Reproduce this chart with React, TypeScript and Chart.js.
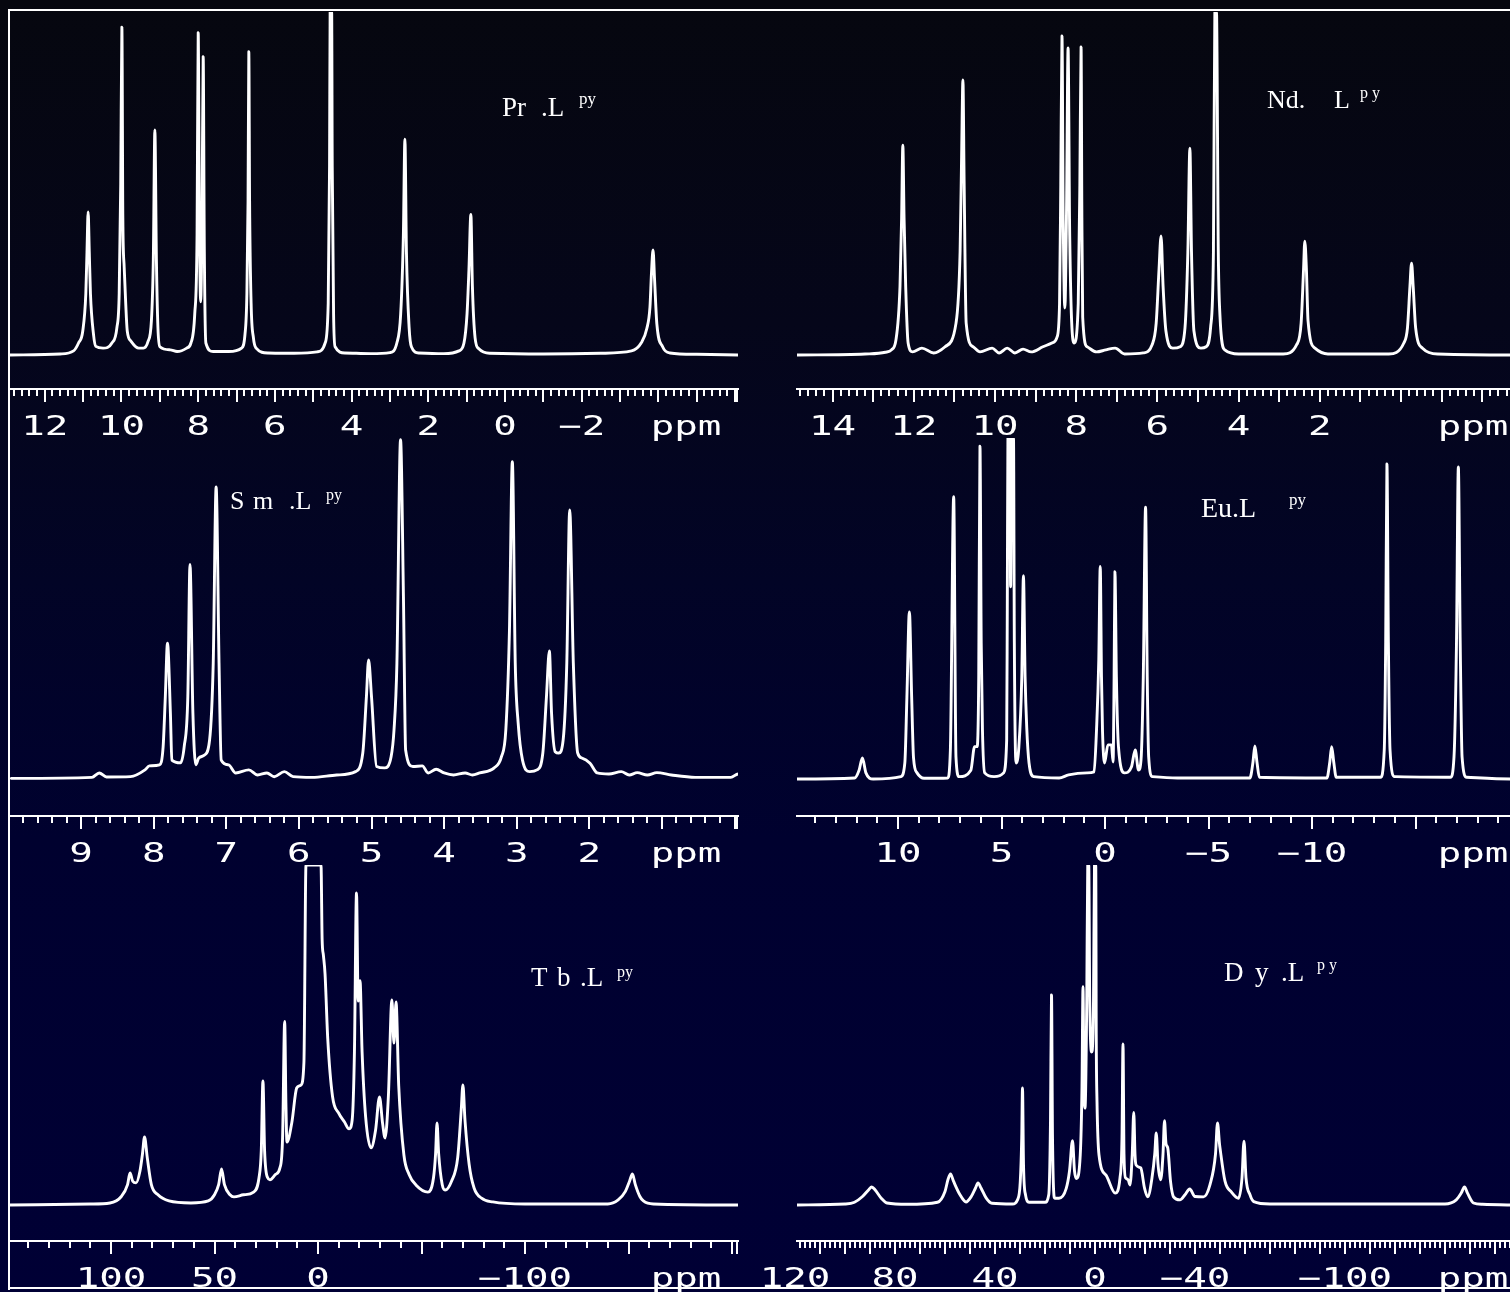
import React, { useEffect, useRef } from "react";
import { Chart, registerables } from "chart.js";

Chart.register(...registerables);

type Pt = [number, number]; // [chemical shift (ppm), intensity (% of panel height)]

// ---------------- Pr.L(py) ----------------
const PR_SPECTRUM: Pt[] = [
  [12.9, 0], [11.6, 0.3], [11.25, 1.2], [11.12, 3.5], [11.01, 7], [10.93, 18], [10.9, 30], [10.87, 41.7],
  [10.84, 30], [10.81, 18], [10.73, 6], [10.67, 2.5], [10.48, 2], [10.25, 3.5], [10.12, 8], [10.06, 18],
  [10.02, 50], [9.99, 95.6], [9.965, 40], [9.93, 25.6], [9.89, 15], [9.85, 7], [9.75, 4], [9.55, 2],
  [9.43, 2], [9.31, 3.9], [9.22, 10], [9.17, 28], [9.13, 65.6], [9.09, 28], [9.05, 8], [9.0, 2.4],
  [8.73, 1.5], [8.55, 1], [8.3, 2], [8.19, 3.5], [8.09, 12], [8.03, 35], [8.0, 94], [7.97, 40],
  [7.935, 15.5], [7.9, 40], [7.87, 87], [7.84, 30], [7.8, 3.5], [7.61, 1], [7.2, 1], [6.87, 2],
  [6.78, 6], [6.73, 18], [6.7, 45], [6.68, 88.4], [6.66, 45], [6.62, 15], [6.56, 5], [6.49, 2],
  [6.18, 0.6], [5.5, 0.5], [4.9, 0.9], [4.69, 3.5], [4.61, 15], [4.575, 55], [4.56, 100], [4.52, 100],
  [4.505, 55], [4.47, 12], [4.43, 2.4], [4.18, 0.6], [3.5, 0.4], [3.0, 0.7], [2.82, 3.5], [2.72, 12],
  [2.65, 35], [2.61, 62.9], [2.57, 30], [2.5, 8], [2.44, 2.4], [2.25, 0.6], [1.6, 0.4], [1.2, 1.2],
  [1.07, 3.5], [0.99, 12], [0.94, 25], [0.89, 41], [0.85, 20], [0.78, 5], [0.69, 1.9], [0.4, 0.5],
  [-1.0, 0.3], [-2.5, 0.5], [-3.3, 1.2], [-3.55, 3.5], [-3.7, 7.8], [-3.78, 14], [-3.82, 24], [-3.86, 30.6],
  [-3.9, 22], [-3.96, 9], [-4.11, 2.4], [-4.3, 0.6], [-5.0, 0.2], [-6.1, 0],
];
const PR_TICK_LABELS: number[] = [12, 10, 8, 6, 4, 2, 0, -2];

// ---------------- Nd.L(py) ----------------
const ND_SPECTRUM: Pt[] = [
  [14.9, 0], [13.2, 0.3], [12.7, 0.8], [12.55, 1.5], [12.44, 4.4], [12.34, 20], [12.3, 40], [12.27, 61.2],
  [12.24, 40], [12.2, 20], [12.14, 3.5], [12.03, 0.9], [11.8, 2], [11.51, 0.6], [11.23, 2.4], [10.96, 9.3],
  [10.86, 30], [10.82, 60], [10.79, 80.2], [10.76, 50], [10.71, 9.3], [10.54, 2.4], [10.37, 0.9], [10.07, 2],
  [9.9, 0.6], [9.7, 2], [9.51, 0.6], [9.31, 1.7], [9.11, 0.9], [8.82, 2.4], [8.6, 3.5], [8.47, 5.3],
  [8.41, 15], [8.38, 50], [8.35, 93], [8.32, 40], [8.28, 13.7], [8.24, 40], [8.2, 89.5], [8.16, 35],
  [8.05, 3.5], [7.95, 15], [7.91, 50], [7.88, 89.8], [7.86, 40], [7.84, 11], [7.73, 2.4], [7.5, 0.9],
  [7.27, 1.5], [7.04, 2], [6.81, 0.3], [6.35, 0.6], [6.13, 3], [6.03, 9.3], [5.96, 25], [5.91, 34.7],
  [5.86, 20], [5.79, 7], [5.62, 2], [5.44, 2.4], [5.32, 8], [5.25, 30], [5.2, 60.3], [5.16, 30],
  [5.1, 7], [4.93, 2], [4.8, 2.4], [4.69, 8], [4.62, 30], [4.585, 100], [4.545, 100], [4.5, 30],
  [4.46, 11.7], [4.34, 1.5], [4.0, 0.3], [2.9, 0.3], [2.57, 3], [2.46, 9.3], [2.4, 25], [2.37, 33.2],
  [2.33, 25], [2.29, 10], [2.12, 2], [1.8, 0.3], [0.3, 0.3], [-0.07, 3.5], [-0.16, 8], [-0.22, 20],
  [-0.26, 26.8], [-0.3, 20], [-0.36, 8], [-0.53, 2], [-0.9, 0.3], [-2.7, 0],
];
const ND_TICK_LABELS: number[] = [14, 12, 10, 8, 6, 4, 2];

// ---------------- Sm.L(py) ----------------
const SM_SPECTRUM: Pt[] = [
  [9.96, -0.7], [8.85, -0.4], [8.75, 0.9], [8.65, -0.3], [8.32, -0.2], [8.12, 1.8], [8.06, 3], [7.92, 3.3],
  [7.87, 8.7], [7.84, 23.5], [7.81, 39.3], [7.77, 18.6], [7.75, 4.7], [7.63, 3.9], [7.58, 8.7], [7.53, 23.5],
  [7.5, 62.6], [7.46, 18.6], [7.42, 3.3], [7.38, 5.3], [7.3, 6.2], [7.23, 10.7], [7.18, 33.4], [7.14, 85.5],
  [7.1, 33.4], [7.07, 4.7], [6.97, 3.3], [6.87, 0.9], [6.69, 1.8], [6.57, 0.3], [6.44, 0.9], [6.34, -0.2],
  [6.2, 1.3], [6.08, -0.2], [5.82, -0.4], [5.48, 0.3], [5.22, 1.3], [5.12, 6.8], [5.07, 23.5], [5.04, 34.3],
  [5.0, 23.5], [4.93, 2.8], [4.82, 2.4], [4.73, 5.7], [4.69, 13.6], [4.65, 33.4], [4.6, 99.5], [4.56, 53],
  [4.53, 7.7], [4.43, 2.8], [4.3, 3], [4.22, 0.9], [4.11, 2], [4.0, 0.9], [3.87, 0.3], [3.71, 0.9],
  [3.61, 0.3], [3.51, 0.9], [3.31, 2.4], [3.21, 5.7], [3.15, 13.6], [3.1, 43], [3.06, 93], [3.02, 33.4],
  [2.98, 15.7], [2.92, 4.7], [2.82, 1.3], [2.72, 1.8], [2.64, 6.8], [2.59, 23.5], [2.55, 37], [2.52, 18.6],
  [2.47, 7.2], [2.42, 6.8], [2.36, 10.7], [2.31, 33.4], [2.27, 78.7], [2.22, 33.4], [2.16, 6.8], [2.1, 5.3],
  [1.99, 3.8], [1.89, 0.9], [1.73, 0.6], [1.56, 1.3], [1.45, 0.3], [1.34, 1.0], [1.2, 0.3], [1.07, 1.0],
  [0.87, 0.3], [0.54, -0.4], [0.05, -0.4], [-0.05, 0.6], [-0.1, 0.6],
];
const SM_TICK_LABELS: number[] = [9, 8, 7, 6, 5, 4, 3, 2];

// ---------------- Eu.L(py) ----------------
const EU_SPECTRUM: Pt[] = [
  [14.93, 0], [12.1, 0.3], [11.88, 2.6], [11.72, 6.2], [11.55, 1.8], [11.2, 0], [9.86, 0.7], [9.67, 4.7],
  [9.57, 24], [9.45, 49], [9.34, 24], [9.25, 6.2], [9.08, 1.8], [8.74, 0.2], [7.6, 0.3], [7.47, 8.5],
  [7.31, 82.8], [7.2, 6.5], [7.05, 0.7], [6.48, 2.6], [6.3, 9.5], [6.18, 9.5], [6.1, 30], [6.04, 97.6],
  [5.98, 40], [5.92, 14.4], [5.81, 1.8], [5.36, 0.7], [4.9, 1.8], [4.75, 11.4], [4.72, 50], [4.69, 100],
  [4.6, 100], [4.56, 56.4], [4.5, 100], [4.42, 100], [4.38, 40], [4.3, 4.7], [4.16, 9.5], [4.02, 30],
  [3.94, 59.6], [3.86, 30], [3.78, 15], [3.67, 4.7], [3.44, 0.7], [2.22, 0.3], [1.76, 1.2], [0.87, 1.8],
  [0.53, 2.1], [0.41, 14.4], [0.3, 35], [0.23, 62.3], [0.17, 30], [0.12, 14], [0.02, 4.7], [-0.14, 10],
  [-0.31, 10], [-0.39, 5], [-0.44, 30], [-0.48, 60.8], [-0.55, 30], [-0.65, 9.5], [-0.94, 1.8], [-1.28, 3.6],
  [-1.46, 8.5], [-1.62, 2.6], [-1.74, 5.6], [-1.85, 30], [-1.96, 79.7], [-2.04, 30], [-2.11, 6.5], [-2.29, 0.7],
  [-3.5, 0.3], [-7.0, 0.3], [-7.15, 5], [-7.24, 9.7], [-7.34, 5], [-7.46, 0.5], [-10.72, 0.3], [-10.86, 5],
  [-10.95, 9.5], [-11.05, 5], [-11.17, 0.5], [-13.31, 0.5], [-13.49, 8.5], [-13.56, 40], [-13.62, 92.4], [-13.69, 40],
  [-13.77, 8.5], [-13.99, 0.7], [-16.69, 0.5], [-16.86, 6.5], [-16.98, 40], [-17.07, 91.5], [-17.16, 40], [-17.25, 6.5],
  [-17.47, 0.5], [-19.6, 0],
];
const EU_TICK_LABELS: number[] = [10, 5, 0, -5, -10];

// ---------------- Tb.L(py) ----------------
const TB_SPECTRUM: Pt[] = [
  [148.8, 0], [110, 0.3], [100.5, 0.6], [95, 2.5], [92, 6], [90.8, 9.4], [89.5, 7], [87.9, 6.5],
  [86, 10], [84.8, 15], [83.8, 20], [82.5, 14], [80.5, 6], [77.3, 3], [72, 1.2], [61.4, 0.6],
  [53, 1.2], [50, 3], [48, 6], [46.6, 10.6], [45.2, 6], [42.5, 3], [40.6, 2.4], [36, 3],
  [31.1, 3.8], [28.5, 8], [27.4, 16], [26.6, 36.5], [25.8, 16], [24.3, 8], [23.2, 7.4], [20.5, 9],
  [18.4, 10.9], [17.1, 20], [16.1, 54], [15.5, 30], [15, 18.5], [12.6, 24.4], [10.3, 34.4], [8.2, 35.3],
  [6.8, 42], [5.8, 100], [-1.45, 100], [-2, 78], [-2.6, 73.5], [-3.4, 68], [-4.7, 49], [-7, 32],
  [-10, 27], [-12.8, 24.4], [-15, 22.4], [-16.5, 25], [-17.6, 45], [-18.6, 91.8], [-19.4, 60], [-20.3, 66],
  [-21.3, 45], [-23, 26], [-25.6, 16.8], [-27.8, 22], [-29.7, 31.8], [-31.2, 24], [-32.4, 19.7], [-34, 32],
  [-35.7, 60.3], [-36.7, 47.6], [-37.7, 59.7], [-39, 35], [-41.5, 14.7], [-44, 9], [-47.3, 5.9], [-53.1, 3.8],
  [-55.8, 8], [-56.8, 15], [-57.5, 24.1], [-58.3, 15], [-60, 6], [-61.4, 4.4], [-64.5, 7], [-67.5, 14],
  [-69.2, 28], [-70, 35.3], [-71, 25], [-73, 12], [-75.4, 5], [-79, 2], [-84.5, 0.9], [-100, 0.3],
  [-140, 0.3], [-145, 1.5], [-148.5, 4], [-150.5, 7], [-151.9, 9.1], [-153.3, 6], [-155.5, 2.5], [-157.2, 1.2],
  [-162, 0.3], [-204, 0],
];
const TB_TICK_LABELS: number[] = [100, 50, 0, -100];

// ---------------- Dy.L(py) ----------------
const DY_SPECTRUM: Pt[] = [
  [119.6, 0], [100, 0.3], [96.2, 0.8], [93, 2.5], [90.5, 4.5], [89.3, 5.3], [88, 4.5], [85.5, 2],
  [83.2, 0.6], [75, 0.2], [63, 0.8], [60, 4], [58.8, 7.5], [57.8, 9.1], [56.6, 7], [54, 3],
  [51.6, 0.9], [49.5, 2.5], [47.8, 5], [46.8, 6.5], [45.6, 5], [43.5, 2], [41.2, 0.5], [33, 0.3],
  [31, 1.5], [29.9, 6.8], [29.3, 20], [29, 34.4], [28.6, 12], [27.8, 3], [26.4, 0.8], [20, 0.8],
  [18.5, 3], [17.8, 25], [17.4, 61.8], [17.0, 20], [16.1, 2], [14.4, 2], [11.5, 4.9], [10.2, 10],
  [9.0, 18.9], [8.2, 10], [7.4, 7.8], [5.9, 14.7], [5.2, 35], [4.8, 64.2], [4.4, 35], [4.0, 28.5],
  [3.3, 60], [2.9, 100], [2.5, 100], [2.1, 60], [1.3, 45], [0.6, 60], [0.2, 100], [-0.3, 100],
  [-0.5, 50], [-0.8, 30.4], [-1.6, 14.7], [-4.4, 8.8], [-8.1, 3.5], [-10, 8], [-10.8, 20], [-11.2, 47.4],
  [-11.6, 15], [-12.2, 8], [-13.2, 7.5], [-14, 5.9], [-14.9, 15], [-15.5, 27.2], [-16, 15], [-16.4, 11.8],
  [-18.3, 10.9], [-19.8, 5], [-21.1, 2.4], [-22.8, 8], [-23.9, 15], [-24.5, 21.2], [-25.2, 12], [-26.3, 7.4],
  [-27.2, 15], [-27.8, 24.8], [-28.4, 18], [-29.1, 16.8], [-30.2, 7], [-31.4, 2.4], [-34, 1.5], [-36, 3],
  [-37.9, 4.7], [-40, 2.5], [-43.4, 2.4], [-46, 6], [-48.2, 15], [-49, 24.1], [-49.8, 18], [-50, 16.8],
  [-52, 7], [-54.6, 3.8], [-57.4, 2], [-58.8, 8], [-59.6, 18.8], [-60.4, 8], [-62, 3], [-63.5, 1],
  [-70, 0.3], [-140, 0.3], [-144.5, 1.5], [-146.5, 3.5], [-147.8, 5.3], [-149, 3.5], [-151.4, 0.6], [-155, 0.2],
  [-166, 0],
];
const DY_TICK_LABELS: number[] = [120, 80, 40, 0, -40, -100];

const UNIT_LABEL = "ppm";

// ---------------- layout / style ----------------
const AXIS_H = 40;
const LABEL_DROP = 46;
const INK = "#ffffff";
const BG =
  "linear-gradient(180deg, #06070f 0%, #05061a 25%, #020426 45%, #00012f 65%, #000035 100%)";
const TITLE_FAMILY = '"Liberation Serif", "Times New Roman", serif';

interface PanelDef {
  key: string;
  spectrum: Pt[];
  labels: number[];
  minor: number;
  major: number;
  canvas: { left: number; top: number; width: number; height: number };
  area: { left: number; top: number; right: number; bottom: number };
  baselineY: number;
  zeroPx: number;
  pxPerUnit: number;
  unitPx: number;
}

const PANELS: PanelDef[] = [
  {
    key: "pr", spectrum: PR_SPECTRUM, labels: PR_TICK_LABELS, minor: 0.2, major: 1,
    canvas: { left: 0, top: 0, width: 760, height: 455 },
    area: { left: 10, top: 12, right: 738, bottom: 389 },
    baselineY: 355, zeroPx: 505, pxPerUnit: 38.35, unitPx: 686,
  },
  {
    key: "nd", spectrum: ND_SPECTRUM, labels: ND_TICK_LABELS, minor: 0.2, major: 1,
    canvas: { left: 745, top: 0, width: 770, height: 455 },
    area: { left: 797, top: 12, right: 1515, bottom: 389 },
    baselineY: 355, zeroPx: 1401, pxPerUnit: 40.6, unitPx: 1473,
  },
  {
    key: "sm", spectrum: SM_SPECTRUM, labels: SM_TICK_LABELS, minor: 0.2, major: 1,
    canvas: { left: 0, top: 425, width: 760, height: 455 },
    area: { left: 10, top: 438, right: 738, bottom: 816 },
    baselineY: 776, zeroPx: 734.5, pxPerUnit: 72.6, unitPx: 686,
  },
  {
    key: "eu", spectrum: EU_SPECTRUM, labels: EU_TICK_LABELS, minor: 1, major: 5,
    canvas: { left: 745, top: 425, width: 770, height: 455 },
    area: { left: 797, top: 438, right: 1515, bottom: 816 },
    baselineY: 779, zeroPx: 1105, pxPerUnit: 20.7, unitPx: 1473,
  },
  {
    key: "tb", spectrum: TB_SPECTRUM, labels: TB_TICK_LABELS, minor: 10, major: 50,
    canvas: { left: 0, top: 850, width: 760, height: 442 },
    area: { left: 10, top: 865, right: 738, bottom: 1241 },
    baselineY: 1205, zeroPx: 318, pxPerUnit: 2.07, unitPx: 686,
  },
  {
    key: "dy", spectrum: DY_SPECTRUM, labels: DY_TICK_LABELS, minor: 2, major: 10,
    canvas: { left: 745, top: 850, width: 770, height: 442 },
    area: { left: 797, top: 865, right: 1515, bottom: 1241 },
    baselineY: 1205, zeroPx: 1095, pxPerUnit: 2.5, unitPx: 1473,
  },
];

interface TitlePiece { text: string; x: number; baseline: number; size: number }
const TITLES: TitlePiece[] = [
  { text: "Pr", x: 502, baseline: 117, size: 27 },
  { text: ".L", x: 541, baseline: 117, size: 27 },
  { text: "py", x: 579, baseline: 104, size: 17 },
  { text: "Nd.", x: 1267, baseline: 109, size: 26 },
  { text: "L", x: 1334, baseline: 109, size: 26 },
  { text: "p y", x: 1360, baseline: 98, size: 16 },
  { text: "S", x: 230, baseline: 510, size: 26 },
  { text: "m", x: 253, baseline: 510, size: 26 },
  { text: ".L", x: 289, baseline: 510, size: 26 },
  { text: "py", x: 326, baseline: 500, size: 16 },
  { text: "Eu.L", x: 1201, baseline: 517, size: 28 },
  { text: "py", x: 1289, baseline: 505, size: 17 },
  { text: "T", x: 531, baseline: 987, size: 27 },
  { text: "b", x: 557, baseline: 987, size: 27 },
  { text: ".L", x: 580, baseline: 987, size: 27 },
  { text: "py", x: 617, baseline: 977, size: 16 },
  { text: "D", x: 1224, baseline: 982, size: 27 },
  { text: "y", x: 1255, baseline: 982, size: 27 },
  { text: ".L", x: 1281, baseline: 982, size: 27 },
  { text: "p y", x: 1317, baseline: 970, size: 16 },
];

const fmt = (v: number) => (v < 0 ? "\u2212" + Math.abs(v) : String(v));

const rulerPlugin = {
  id: "ruler",
  afterDraw(chart: any, _args: any, opts: any) {
    const sx = chart.scales.x;
    const { ctx, chartArea } = chart;
    const y0 = chartArea.bottom;
    ctx.save();
    ctx.strokeStyle = opts.ink;
    ctx.lineWidth = opts.tickWidth;
    const lo = Math.min(sx.min, sx.max);
    const hi = Math.max(sx.min, sx.max);
    const ratio = Math.round(opts.major / opts.minor);
    const k0 = Math.ceil(lo / opts.minor - 1e-9);
    const k1 = Math.floor(hi / opts.minor + 1e-9);
    ctx.beginPath();
    for (let k = k0; k <= k1; k++) {
      const px = Math.round(sx.getPixelForValue(k * opts.minor));
      const len = k % ratio === 0 ? opts.majorLen : opts.minorLen;
      ctx.moveTo(px, y0);
      ctx.lineTo(px, y0 + len);
    }
    ctx.moveTo(chartArea.right - 1, y0);
    ctx.lineTo(chartArea.right - 1, y0 + opts.majorLen);
    ctx.stroke();

    ctx.fillStyle = opts.ink;
    ctx.font = opts.labelFont;
    ctx.textAlign = "center";
    ctx.textBaseline = "alphabetic";
    const put = (text: string, px: number) => {
      ctx.save();
      ctx.translate(px, y0 + opts.labelDrop);
      ctx.scale(opts.stretch, 1);
      ctx.fillText(text, 0, 0);
      ctx.restore();
    };
    for (const v of opts.labels) put(fmt(v), sx.getPixelForValue(v));
    put(opts.unit, opts.unitX);
    ctx.restore();
  },
};

function buildConfig(p: PanelDef): any {
  const c = p.canvas;
  const a = p.area;
  const xMax = (p.zeroPx - a.left) / p.pxPerUnit;
  const xMin = (p.zeroPx - a.right) / p.pxPerUnit;
  const yMin = -((a.bottom - p.baselineY) / (p.baselineY - a.top)) * 100;
  const points = p.spectrum.map(([x, y]) => ({ x, y })).sort((m, n) => m.x - n.x);
  return {
    type: "line",
    data: {
      datasets: [
        {
          data: points,
          borderColor: INK,
          borderWidth: 2.9,
          borderJoinStyle: "round",
          borderCapStyle: "round",
          cubicInterpolationMode: "monotone",
          pointRadius: 0,
          fill: false,
        },
      ],
    },
    options: {
      animation: false,
      responsive: false,
      devicePixelRatio: 1,
      events: [],
      layout: {
        padding: {
          left: a.left - c.left,
          top: a.top - c.top,
          right: c.left + c.width - a.right,
          bottom: c.top + c.height - a.bottom - AXIS_H,
        },
      },
      plugins: {
        legend: { display: false },
        tooltip: { enabled: false },
        ruler: {
          ink: INK,
          tickWidth: 2,
          minor: p.minor,
          major: p.major,
          minorLen: 7,
          majorLen: 13,
          labels: p.labels,
          unit: UNIT_LABEL,
          unitX: p.unitPx - c.left,
          labelDrop: LABEL_DROP,
          labelFont: '27px "DejaVu Sans Mono"',
          stretch: 1.45,
        },
      },
      scales: {
        x: {
          type: "linear",
          reverse: true,
          min: xMin,
          max: xMax,
          grid: { display: false, drawTicks: false },
          border: { display: true, color: INK, width: 2 },
          ticks: { display: false },
          afterFit: (s: any) => {
            s.height = AXIS_H;
            s.paddingLeft = 0;
            s.paddingRight = 0;
          },
        },
        y: { display: false, min: yMin, max: 100 },
      },
    },
    plugins: [rulerPlugin],
  };
}

function Panel({ def }: { def: PanelDef }) {
  const ref = useRef<HTMLCanvasElement>(null);
  useEffect(() => {
    if (!ref.current) return;
    const chart = new Chart(ref.current, buildConfig(def));
    return () => chart.destroy();
  }, [def]);
  const c = def.canvas;
  return (
    <canvas
      ref={ref}
      width={c.width}
      height={c.height}
      style={{ position: "absolute", left: c.left, top: c.top, width: c.width, height: c.height }}
    />
  );
}

export default function App() {
  return (
    <div
      style={{
        position: "absolute",
        left: 0,
        top: 0,
        width: 1510,
        height: 1292,
        overflow: "hidden",
        background: BG,
      }}
    >
      <div style={{ position: "absolute", left: 8, top: 9, width: 1510, height: 2, background: INK }} />
      <div style={{ position: "absolute", left: 8, top: 9, width: 2, height: 1281, background: INK }} />
      <div style={{ position: "absolute", left: 8, top: 1287, width: 1510, height: 2, background: INK }} />
      {PANELS.map((p) => (
        <Panel key={p.key} def={p} />
      ))}
      {TITLES.map((t, i) => (
        <div
          key={i}
          style={{
            position: "absolute",
            left: t.x,
            top: t.baseline - 0.8375 * t.size,
            fontFamily: TITLE_FAMILY,
            fontSize: t.size,
            lineHeight: `${t.size}px`,
            color: INK,
            whiteSpace: "pre",
          }}
        >
          {t.text}
        </div>
      ))}
    </div>
  );
}
